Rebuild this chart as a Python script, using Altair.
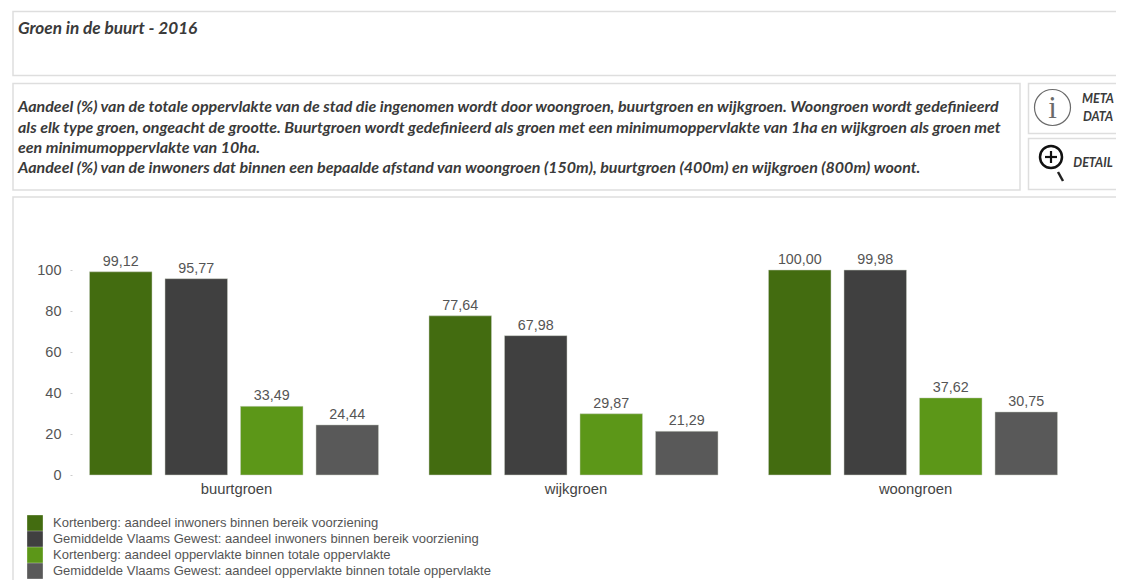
import altair as alt
import pandas as pd

categories = ["buurtgroen", "wijkgroen", "woongroen"]
series = [
    "Kortenberg: aandeel inwoners binnen bereik voorziening",
    "Gemiddelde Vlaams Gewest: aandeel inwoners binnen bereik voorziening",
    "Kortenberg: aandeel oppervlakte binnen totale oppervlakte",
    "Gemiddelde Vlaams Gewest: aandeel oppervlakte binnen totale oppervlakte",
]
colors = ["#436c10", "#404040", "#5c9718", "#595959"]
values = [
    [99.12, 95.77, 33.49, 24.44],
    [77.64, 67.98, 29.87, 21.29],
    [100.00, 99.98, 37.62, 30.75],
]
title_text = "Groen in de buurt - 2016"
body_lines = [
    "Aandeel (%) van de totale oppervlakte van de stad die ingenomen wordt door woongroen, buurtgroen en wijkgroen. Woongroen wordt gedefinieerd",
    "als elk type groen, ongeacht de grootte. Buurtgroen wordt gedefinieerd als groen met een minimumoppervlakte van 1ha en wijkgroen als groen met",
    "een minimumoppervlakte van 10ha.",
    "Aandeel (%) van de inwoners dat binnen een bepaalde afstand van woongroen (150m), buurtgroen (400m) en wijkgroen (800m) woont.",
]

rows = []
for c, vals in zip(categories, values):
    for s, v in zip(series, vals):
        rows.append({"cat": c, "serie": s, "val": v, "label": f"{v:.2f}".replace(".", ",")})
df = pd.DataFrame(rows)

OX, OY = 72, 270  # plot origin within the photographed page
CANVAS_W, CANVAS_H = 1108, 572
one = alt.Data(values=[{"a": 1}])
FONT = "Lato"


def px(x):
    return alt.value(x - OX)


def py(y):
    return alt.value(y - OY)


def frame(x0, x1, y0, y1):
    return alt.Chart(one).mark_rect(fillOpacity=0, fill="white", stroke="#dedede", strokeWidth=1.5).encode(
        x=px(x0), x2=px(x1), y=py(y0), y2=py(y1))


def label(text, x, y, size, align="left", color="#3a3a3a", font=FONT, style="italic", weight="bold"):
    return alt.Chart(one).mark_text(
        text=text, font=font, fontSize=size, fontStyle=style, fontWeight=weight,
        align=align, baseline="alphabetic", color=color).encode(x=px(x), y=py(y))


def ring(x, y, size, color, width):
    return alt.Chart(one).mark_point(
        shape="circle", filled=False, size=size, color=color, strokeWidth=width, opacity=1
    ).encode(x=px(x), y=py(y))


def stroke(x0, y0, x1, y1, color, width):
    return alt.Chart(one).mark_rule(color=color, strokeWidth=width).encode(
        x=px(x0), x2=px(x1), y=py(y0), y2=py(y1))


frames = [
    frame(13, 1140, 11.5, 75.5),
    frame(13, 1020, 83.5, 190),
    frame(1028.5, 1140, 83.5, 133.5),
    frame(1028.5, 1140, 138.5, 189.5),
    frame(13, 1140, 197, 600),
]

texts = [label(title_text, 18, 34, 17.2)]
for line, base in zip(body_lines, [112, 133, 152.5, 172.5]):
    texts.append(label(line, 18, base, 16))
texts += [
    ring(1052.5, 107.5, 1296, "#6a6a6a", 1.2),
    label("i", 1052.5, 118, 31, align="center", color="#6a6a6a", font="Liberation Serif", style="normal", weight="normal"),
    label("META", 1098, 103, 12.5, align="center"),
    label("DATA", 1098, 121, 12.5, align="center"),
    ring(1051, 157, 484, "#111111", 2.5),
    stroke(1045, 157, 1057, 157, "#111111", 2.2),
    stroke(1051, 151, 1051, 163, "#111111", 2.2),
    stroke(1058, 172, 1063, 181, "#222222", 2.5),
    label("DETAIL", 1093, 167, 12.5, align="center"),
]

x = alt.X("cat:N", sort=categories,
          scale=alt.Scale(paddingInner=37.5 / 339.5, paddingOuter=11 / 339.5),
          axis=alt.Axis(title=None, labelAngle=0, labelFont="Liberation Sans", labelFontSize=14.8,
                        labelOffset=2.5, labelColor="#444444", labelPadding=6, domain=False, ticks=False,
                        grid=False))
xo = alt.XOffset("serie:N", sort=series,
                 scale=alt.Scale(domain=series, paddingInner=13 / 75.5, paddingOuter=6.5 / 75.5))
y = alt.Y("val:Q", scale=alt.Scale(domain=[0, 100], nice=False),
          axis=alt.Axis(title=None, values=[0, 20, 40, 60, 80, 100], grid=False, domain=False,
                        tickSize=2, tickColor="#cccccc", labelFont="Liberation Sans", labelFontSize=14.5,
                        labelColor="#555555", labelPadding=9))

bars = alt.Chart(df).mark_bar(stroke="#c9cfc2", strokeWidth=0.5).encode(
    x=x, xOffset=xo, y=y,
    color=alt.Color("serie:N", sort=series,
                    scale=alt.Scale(domain=series, range=colors),
                    legend=alt.Legend(title=None, orient="none", legendX=27 - OX, legendY=515 - OY,
                                      symbolType="square", symbolSize=246, symbolStrokeWidth=0,
                                      labelFont="Liberation Sans", labelFontSize=13, labelColor="#555555",
                                      labelLimit=600, labelOffset=10, rowPadding=0, padding=0,
                                      symbolOpacity=1)),
)
bar_labels = alt.Chart(df).mark_text(
    font="Liberation Sans", fontSize=14.3, color="#555555", baseline="bottom", dy=-3
).encode(x=x, xOffset=xo, y=y, text="label:N")

chart = alt.layer(bars, bar_labels, *frames, *texts).properties(
    width=1003, height=205,
    padding={"left": OX - 8, "top": OY - 8, "right": CANVAS_W - (OX - 8) - 1003, "bottom": CANVAS_H - (OY - 8) - 205},
    autosize="none",
).configure_view(stroke=None)

chart.save("out.html", embed_options={"renderer": "svg", "actions": False})
